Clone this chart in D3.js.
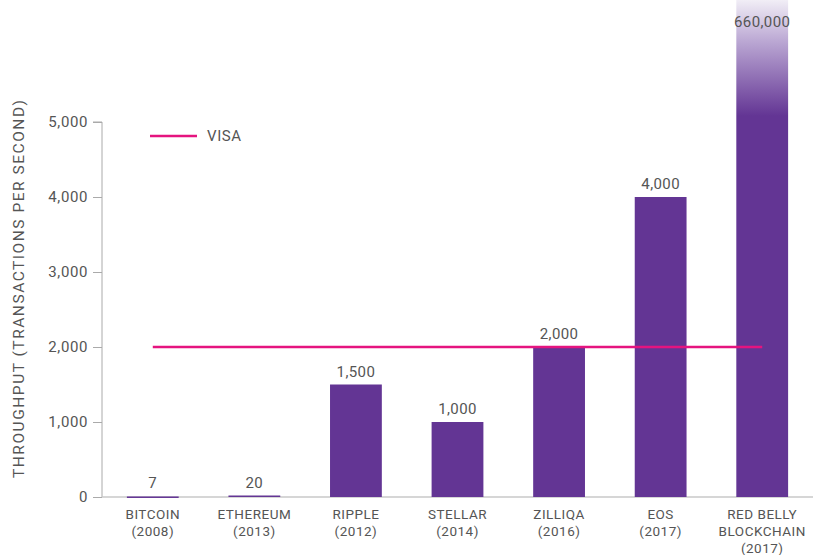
<!DOCTYPE html>
<html><head><meta charset="utf-8">
<script src="https://cdn.jsdelivr.net/npm/d3@7"></script>
<style>body{margin:0;background:#fff}text{font-family:Roboto,"DejaVu Sans",sans-serif}</style>
</head><body>
<svg id="c" width="815" height="555"></svg>
<script>
const categories = ["BITCOIN|(2008)","ETHEREUM|(2013)","RIPPLE|(2012)","STELLAR|(2014)","ZILLIQA|(2016)","EOS|(2017)","RED BELLY|BLOCKCHAIN|(2017)"];
const throughput = [7, 20, 1500, 1000, 2000, 4000, 660000];
const valueLabels = ["7","20","1,500","1,000","2,000","4,000","660,000"];
const visaValue = 2000;
const yTicks = [0,1000,2000,3000,4000,5000];
const yTitle = "THROUGHPUT (TRANSACTIONS PER SECOND)";
const legendLabel = "VISA";

const W = 815, H = 555;
const m = {top:122, left:102, right:2, bottom:58};
const iw = W - m.left - m.right, ih = H - m.top - m.bottom;
const svg = d3.select("#c");
const defs = svg.append("defs");
const g = svg.append("g").attr("transform",`translate(${m.left},${m.top})`);

const x = d3.scaleBand().domain(categories).range([0, 711]).paddingInner(0.49).paddingOuter(0.245);
const y = d3.scaleLinear().domain([0,5000]).range([ih,0]);
const purple = "#633594", pink = "#e5147f", grey = "#555", axisC = "#aaa";

const grad = defs.append("linearGradient").attr("id","fade").attr("gradientUnits","userSpaceOnUse")
  .attr("x1",0).attr("x2",0).attr("y1",-m.top).attr("y2",0);
grad.append("stop").attr("offset","0").attr("stop-color","#f1eef6");
grad.append("stop").attr("offset","0.35").attr("stop-color","#b9a5d2");
grad.append("stop").attr("offset","0.95").attr("stop-color",purple);
grad.append("stop").attr("offset","1").attr("stop-color",purple);

// y axis
const ya = g.append("g").call(d3.axisLeft(y).tickValues(yTicks).tickFormat(d3.format(",")).tickSize(9).tickPadding(5));
ya.select(".domain").attr("stroke",axisC).attr("d",`M-9,${y(5000)}H0V${ih}`);
ya.selectAll(".tick line").attr("stroke",axisC);
ya.selectAll(".tick text").attr("fill",grey).style("font-size","15px").style("letter-spacing","0.6px").style("font-family","Roboto");

// x axis line
g.append("line").attr("x1",0).attr("x2",iw).attr("y1",ih).attr("y2",ih).attr("stroke","#c8c8c8").attr("stroke-width",1.5);

// bars
const data = categories.map((c,i)=>({c, v:throughput[i], l:valueLabels[i]}));
g.selectAll("rect.bar").data(data).join("rect").attr("class","bar")
  .attr("x",d=>x(d.c)).attr("width",x.bandwidth())
  .attr("y",d=>Math.max(y(d.v), -m.top))
  .attr("height",d=>Math.max(ih - Math.max(y(d.v), -m.top), 1.5))
  .attr("fill",d=>y(d.v) < 0 ? "url(#fade)" : purple);

g.selectAll("text.val").data(data).join("text").attr("class","val")
  .attr("x",d=>x(d.c)+x.bandwidth()/2)
  .attr("y",d=>y(d.v) < 0 ? -m.top + 27 : y(d.v) - 8)
  .attr("text-anchor","middle").attr("fill",grey).style("font-size","15px").style("letter-spacing","0.4px").text(d=>d.l);

// category labels
const cl = g.selectAll("text.cat").data(categories).join("text").attr("class","cat")
  .attr("text-anchor","middle").attr("fill",grey).style("font-size","13.5px").style("letter-spacing","0.5px")
  .attr("transform",d=>`translate(${x(d)+x.bandwidth()/2},${ih+22})`);
cl.each(function(d){
  const t = d3.select(this);
  d.split("|").forEach((s,i)=>t.append("tspan").attr("x",0).attr("y",i*17).text(s));
});

// visa line
g.append("line").attr("x1",x(categories[0])+x.bandwidth()/2).attr("x2",x(categories[6])+x.bandwidth()/2)
  .attr("y1",y(visaValue)).attr("y2",y(visaValue)).attr("stroke",pink).attr("stroke-width",2.5);

// legend
svg.append("line").attr("x1",150).attr("x2",197).attr("y1",136).attr("y2",136).attr("stroke",pink).attr("stroke-width",2.5);
svg.append("text").attr("x",207).attr("y",141).attr("fill",grey).style("font-size","15px").style("letter-spacing","0.6px").text(legendLabel);

// y title
svg.append("text").attr("transform",`translate(24,289) rotate(-90)`).attr("text-anchor","middle")
  .attr("fill",grey).style("font-size","15.5px").attr("textLength",378).attr("lengthAdjust","spacing").text(yTitle);
</script>
</body></html>
